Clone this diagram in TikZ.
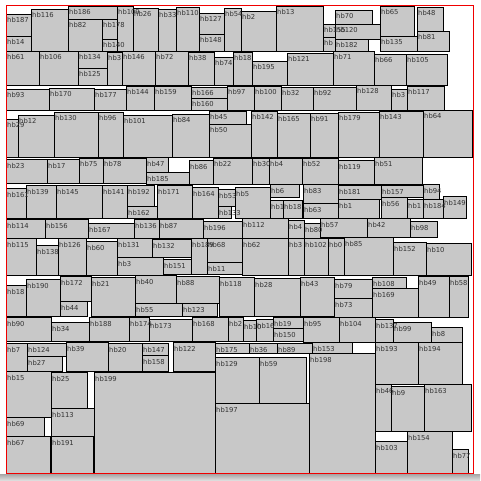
\documentclass[tikz,border=0pt]{standalone}
\usepackage{fontspec}
\setsansfont{DejaVu Sans}
\definecolor{BoxGray}{HTML}{C8C8C8}
\definecolor{FrameRed}{HTML}{F00000}
% packed boxes: left/top/right/bottom/label
\def\hblist{
    6/14/31/36/hb187, 6/36/31/51/hb14, 31/9/68/51/hb116, 68/6/117/19/hb186,
    68/19/102/51/hb82, 102/19/117/39/hb178, 102/39/117/51/hb140,
    117/6/133/51/hb109, 133/8/158/51/hb26, 158/9/176/51/hb33,
    176/7/199/51/hb110, 199/13/224/34/hb127, 199/34/224/51/hb148,
    224/8/241/51/hb54, 241/11/276/51/hb2, 276/6/323/51/hb13,
    335/10/372/24/hb70, 323/24/335/37/hb155, 335/24/380/39/hb120,
    323/37/335/51/hb, 335/39/368/51/hb182, 380/6/414/36/hb65,
    380/36/417/51/hb135, 417/7/443/31/hb48, 417/31/449/51/hb81,
    6/51/39/85/hb61, 39/51/78/85/hb106, 78/51/107/68/hb134,
    78/68/107/85/hb125, 107/52/122/85/hb3, 122/51/155/85/hb146,
    155/51/188/85/hb72, 188/52/214/85/hb38, 214/57/233/85/hb74,
    233/52/252/85/hb18, 252/61/287/85/hb195, 287/53/333/85/hb121,
    333/51/374/85/hb71, 374/54/406/85/hb66, 406/54/447/85/hb105,
    6/89/49/110/hb93, 49/88/94/110/hb170, 94/89/126/110/hb177,
    126/86/154/110/hb144, 154/86/191/110/hb159, 191/87/227/98/hb166,
    191/98/227/110/hb160, 227/86/254/110/hb97, 254/86/281/110/hb100,
    281/87/313/110/hb32, 313/87/356/110/hb92, 356/85/391/110/hb128,
    391/89/407/110/hb3, 407/86/444/110/hb117,
    6/119/18/157/hb29, 18/115/54/157/hb12, 54/112/98/157/hb130,
    98/112/123/157/hb96, 123/115/172/157/hb101, 172/114/209/157/hb84,
    209/111/246/124/hb45, 209/124/251/157/hb50, 251/111/277/157/hb142,
    277/113/310/157/hb165, 310/113/338/157/hb91, 338/112/379/157/hb179,
    379/111/423/157/hb143, 423/110/472/157/hb64,
    6/159/47/183/hb23, 47/159/79/183/hb17, 79/158/103/183/hb75,
    103/158/146/183/hb78, 146/157/168/172/hb47, 146/172/189/184/hb185,
    189/160/213/184/hb86, 213/158/252/184/hb22, 252/158/269/184/hb30,
    269/158/302/184/hb4, 302/158/338/184/hb52, 338/160/374/184/hb119,
    374/157/422/184/hb51,
    6/188/26/218/hb161, 26/185/56/218/hb139, 56/185/102/218/hb145,
    102/185/127/218/hb141, 127/185/154/206/hb192, 127/206/157/218/hb162,
    157/185/192/218/hb171, 192/187/218/218/hb164, 218/189/236/206/hb53,
    218/206/231/218/hb133, 235/187/270/218/hb5, 270/184/299/197/hb6,
    270/200/283/218/hb1, 283/200/302/218/hb18, 303/184/338/203/hb83,
    303/203/338/218/hb63, 338/185/381/199/hb181, 338/199/379/218/hb1,
    381/185/423/197/hb157, 423/184/439/199/hb94, 381/197/407/218/hb56,
    407/199/423/218/hb1, 423/199/443/218/hb184, 443/196/466/218/hb149,
    6/219/45/238/hb114, 45/219/88/238/hb156, 88/223/134/238/hb167,
    134/219/159/238/hb136, 159/219/203/238/hb87, 203/221/242/238/hb196,
    242/218/288/238/hb112, 288/220/304/238/hb4, 304/223/320/238/hb80,
    320/218/367/237/hb57, 367/218/410/237/hb42, 410/221/437/237/hb98,
    6/238/36/275/hb115, 36/245/58/275/hb138, 58/238/86/275/hb126,
    86/241/117/275/hb60, 117/238/152/257/hb131, 117/257/163/275/hb3,
    152/239/191/257/hb132, 163/259/191/274/hb151, 191/238/207/274/hb189,
    207/238/242/262/hb68, 207/262/242/274/hb11, 242/238/288/275/hb62,
    288/238/304/275/hb3, 304/238/328/275/hb102, 328/238/344/275/hb0,
    344/237/393/275/hb85, 393/242/426/275/hb152, 426/243/471/275/hb10,
    6/285/26/316/hb18, 26/279/60/316/hb190, 60/276/91/301/hb172,
    60/301/87/316/hb44, 91/277/135/316/hb21, 135/275/176/303/hb40,
    135/303/182/316/hb55, 176/276/219/303/hb88, 182/303/217/316/hb123,
    219/277/254/316/hb118, 254/278/300/316/hb28, 300/277/334/316/hb43,
    334/279/372/298/hb79, 334/298/372/317/hb73, 372/277/406/288/hb108,
    372/288/418/317/hb169, 418/276/449/317/hb49, 449/276/468/317/hb58,
    6/317/51/341/hb90, 51/322/89/341/hb34, 89/317/129/341/hb188,
    129/317/149/341/hb174, 149/319/192/341/hb173, 192/317/228/341/hb168,
    228/317/243/341/hb2, 243/320/256/341/hb10, 256/319/273/341/hb16,
    273/317/303/328/hb19, 273/328/303/341/hb150, 303/317/339/342/hb95,
    339/317/375/342/hb104, 375/319/393/342/hb137, 393/322/431/342/hb99,
    431/327/462/342/hb8,
    6/343/27/371/hb7, 27/343/66/356/hb124, 27/356/62/371/hb27,
    66/342/108/371/hb39, 108/343/142/371/hb20, 142/343/168/355/hb147,
    142/355/168/371/hb158, 173/342/215/371/hb122, 215/343/249/353/hb175,
    249/343/277/353/hb36, 277/343/312/353/hb89, 312/342/352/353/hb153,
    375/342/418/384/hb193, 418/342/462/384/hb194,
    6/371/51/417/hb15, 51/372/87/408/hb25, 51/408/94/436/hb113,
    6/417/44/436/hb69, 6/436/50/473/hb67, 51/436/93/473/hb191,
    94/372/215/473/hb199, 215/357/259/403/hb129, 259/357/306/403/hb59,
    215/403/309/473/hb197, 309/353/375/473/hb198, 375/384/391/431/hb46,
    391/386/424/431/hb9, 424/384/471/431/hb163, 375/441/407/473/hb103,
    407/431/452/473/hb154, 452/449/468/473/hb77}
\begin{document}
\begin{tikzpicture}[x=1pt,y=-1pt,
    hbbox/.style={draw=black,fill=BoxGray,line width=0.9pt},
    hblabel/.style={anchor=base west,inner sep=0pt,text=black!80,
      font=\sffamily\fontsize{6.8}{7}\selectfont},
    frame/.style={draw=FrameRed,line width=1pt}]
  \useasboundingbox (0,0) rectangle (480,481);
  \shade[top color=black!35,bottom color=black!10] (0,474) rectangle (480,481);
  \foreach \xa/\ya/\xb/\yb/\lbl in \hblist
    \draw[hbbox] (\xa,\ya) rectangle (\xb,\yb);
  \foreach \xa/\ya/\xb/\yb/\lbl in \hblist
    \node[hblabel] (n\xa-\ya) at ({\xa+1},{\ya+9}) {\lbl};
  \draw[frame] (6,6) rectangle (473,473);
\end{tikzpicture}
\end{document}
